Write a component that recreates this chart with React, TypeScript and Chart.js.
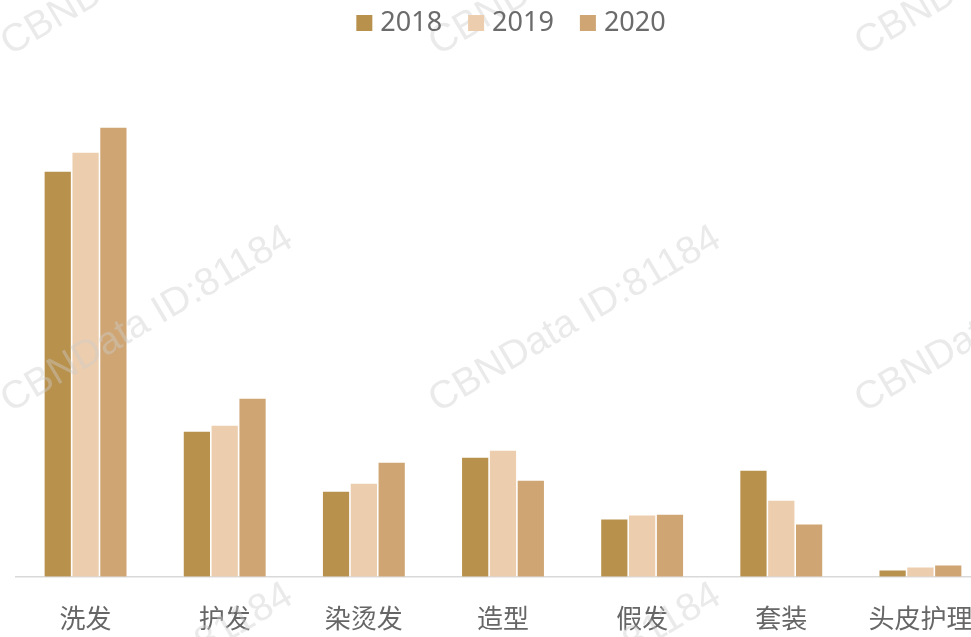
import React, { useEffect, useRef } from "react";
import { Chart, registerables } from "chart.js";

Chart.register(...registerables);

const categories = ["洗发", "护发", "染烫发", "造型", "假发", "套装", "头皮护理"];
const seriesNames = ["2018", "2019", "2020"];
const values2018 = [406, 146, 86, 120, 58, 107, 7];
const values2019 = [425, 152, 94, 127, 62, 77, 10];
const values2020 = [450, 179, 115, 97, 63, 53, 12];
const seriesColors = ["#B8914D", "#ECCDAD", "#CFA573"];
const watermarkText = "CBNData ID:81184";

const legendPlugin = {
  id: "customLegend",
  afterDraw(chart: any) {
    const ctx = chart.ctx;
    ctx.save();
    ctx.font = '27px "Noto Sans", "Noto Sans CJK SC", sans-serif';
    ctx.textBaseline = "middle";
    ctx.textAlign = "left";
    const box = 16;
    const gap = 8;
    const itemGap = 26;
    const ds = chart.data.datasets;
    const widths = ds.map((d: any) => ctx.measureText(d.label).width);
    const total =
      widths.reduce((a: number, w: number) => a + box + gap + w, 0) +
      itemGap * (ds.length - 1);
    let x = chart.width / 2 - total / 2 + 3;
    const cy = 23;
    ds.forEach((d: any, i: number) => {
      ctx.fillStyle = d.backgroundColor;
      ctx.fillRect(x, cy - box / 2, box, box);
      ctx.fillStyle = "#6B6B6B";
      ctx.fillText(d.label, x + box + gap, cy);
      x += box + gap + widths[i] + itemGap;
    });
    ctx.restore();
  },
};

const watermarkPlugin = {
  id: "watermark",
  afterDraw(chart: any) {
    const ctx = chart.ctx;
    ctx.save();
    ctx.font = '39px "Liberation Sans", Arial, sans-serif';
    ctx.fillStyle = "rgba(205,205,205,0.42)";
    ctx.textBaseline = "alphabetic";
    const xs = [10, 438, 864];
    const ys = [56, 413, 770];
    ys.forEach((y) => {
      xs.forEach((x) => {
        ctx.save();
        ctx.translate(x, y);
        ctx.rotate((-30.5 * Math.PI) / 180);
        ctx.fillText(watermarkText, 0, 0);
        ctx.restore();
      });
    });
    ctx.restore();
  },
};

export default function App() {
  const canvasRef = useRef<HTMLCanvasElement | null>(null);

  useEffect(() => {
    if (!canvasRef.current) return;
    const chart = new Chart(canvasRef.current, {
      type: "bar",
      data: {
        labels: categories,
        datasets: [values2018, values2019, values2020].map((vals, i) => ({
          label: seriesNames[i],
          data: vals,
          backgroundColor: seriesColors[i],
          borderColor: "rgba(255,255,255,0.5)",
          borderWidth: 0.8,
          barPercentage: 1,
          categoryPercentage: 0.6,
        })),
      },
      options: {
        responsive: false,
        animation: false,
        devicePixelRatio: 1,
        layout: { padding: { top: 77, left: 16, right: 26, bottom: 7 } },
        plugins: {
          legend: { display: false },
          tooltip: { enabled: false },
        },
        scales: {
          x: {
            grid: { display: false, drawTicks: false },
            border: { display: true, color: "#D9D9D9", width: 1.5 },
            ticks: {
              color: "#666666",
              padding: 26,
              font: { size: 26, family: '"Noto Sans CJK SC", "Noto Sans", sans-serif' },
              maxRotation: 0,
              autoSkip: false,
            },
          },
          y: {
            display: false,
            min: 0,
            max: 500,
          },
        },
      },
      plugins: [watermarkPlugin, legendPlugin],
    });
    return () => chart.destroy();
  }, []);

  return (
    <div
      style={{
        position: "fixed",
        left: 0,
        top: 0,
        width: 971,
        height: 637,
        overflow: "hidden",
        background: "#ffffff",
      }}
    >
      <canvas ref={canvasRef} width={1016} height={667} style={{ display: "block" }} />
    </div>
  );
}
